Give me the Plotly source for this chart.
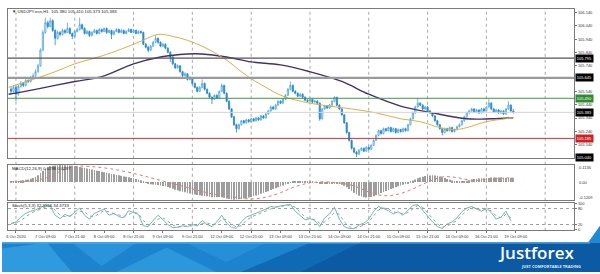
import plotly.graph_objects as go

# ---------------- data ----------------
start_bar = -2
first_open = 105.560
close = [
    105.543, 105.573, 105.521, 105.580, 105.603, 105.588, 105.625, 105.618, 105.647, 105.662,
    105.692, 105.737, 105.856, 105.991, 106.065, 106.036, 106.080, 106.006, 105.946, 105.991,
    105.976, 106.006, 105.991, 106.021, 105.983, 105.961, 105.998, 106.013, 106.050, 106.021,
    105.983, 105.998, 105.968, 105.991, 106.006, 105.983, 106.013, 105.998, 106.021, 105.991,
    106.006, 105.976, 105.998, 106.013, 105.991, 106.006, 105.983, 105.998, 106.013, 105.991,
    106.006, 105.983, 105.998, 105.991, 105.901, 105.879, 105.856, 105.886, 105.916, 105.946,
    105.916, 105.886, 105.901, 105.871, 105.841, 105.804, 105.752, 105.722, 105.737, 105.692,
    105.662, 105.677, 105.633, 105.647, 105.603, 105.573, 105.543, 105.573, 105.603, 105.558,
    105.528, 105.498, 105.483, 105.513, 105.491, 105.543, 105.588, 105.528, 105.468, 105.409,
    105.349, 105.289, 105.259, 105.289, 105.319, 105.304, 105.326, 105.312, 105.334, 105.319,
    105.341, 105.326, 105.356, 105.341, 105.371, 105.394, 105.424, 105.409, 105.438, 105.468,
    105.453, 105.483, 105.513, 105.558, 105.588, 105.543, 105.528, 105.506, 105.521, 105.498,
    105.476, 105.468, 105.483, 105.461, 105.468, 105.453, 105.334, 105.409, 105.431, 105.416,
    105.438, 105.468, 105.498, 105.438, 105.409, 105.364, 105.304, 105.230, 105.170, 105.110,
    105.080, 105.065, 105.095, 105.110, 105.088, 105.117, 105.103, 105.132, 105.170, 105.207,
    105.244, 105.222, 105.259, 105.244, 105.267, 105.237, 105.259, 105.230, 105.252, 105.237,
    105.259, 105.244, 105.289, 105.334, 105.379, 105.424, 105.453, 105.438, 105.409, 105.424,
    105.394, 105.379, 105.356, 105.319, 105.289, 105.259, 105.230, 105.259, 105.244, 105.267,
    105.237, 105.252, 105.274, 105.289, 105.319, 105.349, 105.379, 105.394, 105.409, 105.386,
    105.401, 105.379, 105.409, 105.394, 105.424, 105.453, 105.409, 105.386, 105.401, 105.379,
    105.394, 105.371, 105.409, 105.438, 105.394, 105.383,
]
high = [
    105.575, 105.590, 105.585, 105.595, 105.620, 105.612, 105.640, 105.635, 105.660, 105.680,
    105.710, 105.752, 105.870, 106.010, 106.103, 106.080, 106.103, 106.090, 106.015, 106.005,
    106.000, 106.020, 106.015, 106.065, 106.030, 105.990, 106.010, 106.025, 106.103, 106.058,
    106.030, 106.010, 106.005, 106.000, 106.018, 106.012, 106.025, 106.020, 106.030, 106.028,
    106.015, 106.012, 106.008, 106.025, 106.020, 106.016, 106.012, 106.008, 106.024, 106.020,
    106.016, 106.013, 106.007, 106.005, 105.996, 105.910, 105.890, 105.895, 105.925, 105.968,
    105.952, 105.922, 105.912, 105.908, 105.878, 105.848, 105.812, 105.760, 105.748, 105.742,
    105.700, 105.688, 105.682, 105.660, 105.652, 105.610, 105.580, 105.582, 105.633, 105.610,
    105.565, 105.535, 105.505, 105.520, 105.520, 105.550, 105.603, 105.592, 105.534, 105.474,
    105.415, 105.356, 105.298, 105.298, 105.326, 105.326, 105.334, 105.332, 105.342, 105.340,
    105.350, 105.348, 105.364, 105.362, 105.380, 105.402, 105.434, 105.430, 105.448, 105.476,
    105.474, 105.492, 105.522, 105.568, 105.618, 105.595, 105.552, 105.535, 105.530, 105.527,
    105.505, 105.484, 105.492, 105.490, 105.476, 105.475, 105.458, 105.416, 105.440, 105.438,
    105.446, 105.476, 105.506, 105.502, 105.444, 105.415, 105.370, 105.310, 105.236, 105.176,
    105.118, 105.090, 105.104, 105.118, 105.116, 105.125, 105.124, 105.140, 105.178, 105.215,
    105.252, 105.250, 105.267, 105.266, 105.276, 105.274, 105.268, 105.265, 105.260, 105.258,
    105.268, 105.266, 105.296, 105.342, 105.388, 105.434, 105.491, 105.460, 105.445, 105.432,
    105.430, 105.400, 105.385, 105.362, 105.326, 105.296, 105.266, 105.267, 105.266, 105.276,
    105.274, 105.260, 105.282, 105.298, 105.328, 105.358, 105.388, 105.404, 105.418, 105.415,
    105.410, 105.407, 105.418, 105.415, 105.432, 105.483, 105.460, 105.415, 105.410, 105.407,
    105.402, 105.400, 105.416, 105.468, 105.444, 105.410,
]
low = [
    105.530, 105.535, 105.468, 105.510, 105.570, 105.575, 105.582, 105.605, 105.610, 105.640,
    105.655, 105.685, 105.730, 105.850, 105.980, 106.020, 106.030, 105.995, 105.894, 105.935,
    105.960, 105.968, 105.980, 105.985, 105.975, 105.940, 105.955, 105.990, 106.005, 106.010,
    105.975, 105.975, 105.955, 105.960, 105.985, 105.975, 105.978, 105.990, 105.992, 105.980,
    105.985, 105.940, 105.970, 105.992, 105.984, 105.986, 105.976, 105.978, 105.993, 105.985,
    105.986, 105.977, 105.978, 105.980, 105.894, 105.870, 105.841, 105.850, 105.880, 105.910,
    105.905, 105.878, 105.880, 105.862, 105.832, 105.767, 105.742, 105.712, 105.715, 105.684,
    105.652, 105.655, 105.625, 105.626, 105.595, 105.565, 105.535, 105.538, 105.568, 105.550,
    105.520, 105.490, 105.446, 105.478, 105.484, 105.486, 105.538, 105.520, 105.460, 105.400,
    105.340, 105.280, 105.230, 105.252, 105.282, 105.296, 105.298, 105.304, 105.306, 105.311,
    105.312, 105.318, 105.320, 105.334, 105.336, 105.364, 105.388, 105.401, 105.402, 105.432,
    105.446, 105.448, 105.476, 105.506, 105.550, 105.535, 105.520, 105.498, 105.500, 105.490,
    105.468, 105.460, 105.462, 105.454, 105.455, 105.446, 105.319, 105.328, 105.402, 105.409,
    105.410, 105.432, 105.460, 105.430, 105.400, 105.356, 105.296, 105.220, 105.160, 105.100,
    105.070, 105.043, 105.058, 105.088, 105.080, 105.082, 105.095, 105.098, 105.126, 105.164,
    105.200, 105.214, 105.216, 105.236, 105.238, 105.229, 105.231, 105.222, 105.224, 105.229,
    105.231, 105.236, 105.238, 105.283, 105.328, 105.372, 105.418, 105.430, 105.400, 105.402,
    105.386, 105.371, 105.348, 105.311, 105.281, 105.251, 105.207, 105.224, 105.236, 105.238,
    105.229, 105.230, 105.246, 105.268, 105.283, 105.312, 105.342, 105.372, 105.388, 105.378,
    105.380, 105.371, 105.373, 105.386, 105.388, 105.418, 105.401, 105.378, 105.380, 105.371,
    105.372, 105.364, 105.366, 105.402, 105.386, 105.373,
]

ma_fast_x = [-3, 2, 8, 16, 24, 35, 43, 51, 58, 64, 70, 76, 82, 87, 92, 96, 102, 109,
             120, 137, 147, 157, 165, 173, 179, 184, 192, 203]
ma_fast = [105.573, 105.603, 105.640, 105.692, 105.752, 105.812, 105.864, 105.924, 105.976,
           105.961, 105.931, 105.886, 105.827, 105.767, 105.692, 105.640, 105.573, 105.506,
           105.453, 105.409, 105.379, 105.334, 105.312, 105.267, 105.252, 105.267, 105.312,
           105.341]
ma_slow_x = [-3, 8, 24, 35, 48, 59, 70, 76, 86, 96, 108, 120, 133, 144, 157, 170, 184, 194, 203]
ma_slow = [105.521, 105.558, 105.618, 105.655, 105.752, 105.804, 105.827, 105.827, 105.804,
           105.767, 105.744, 105.692, 105.618, 105.521, 105.431, 105.379, 105.334, 105.334,
           105.341]

macd = [
    0.004, 0.005, 0.006, 0.008, 0.010, 0.012, 0.015, 0.018, 0.022,
    0.028, 0.035, 0.045, 0.060, 0.075, 0.088, 0.098, 0.105,
    0.108, 0.110, 0.112, 0.113, 0.113, 0.112, 0.112, 0.110,
    0.108, 0.105, 0.103, 0.100, 0.097, 0.094, 0.090, 0.087, 0.083, 0.080,
    0.076, 0.073, 0.069, 0.066, 0.062, 0.059, 0.055, 0.052, 0.048, 0.045,
    0.042, 0.038, 0.035, 0.032, 0.028, 0.025, 0.021, 0.017, 0.012,
    0.004, -0.004, -0.010, -0.014, -0.016, -0.017, -0.019, -0.022, -0.025, -0.028,
    -0.032, -0.037, -0.044, -0.050, -0.055, -0.060,
    -0.064, -0.068, -0.072, -0.076, -0.080, -0.083, -0.086, -0.088, -0.090, -0.092,
    -0.094, -0.097, -0.100, -0.101, -0.100, -0.099, -0.101, -0.104, -0.108, -0.112,
    -0.116, -0.117, -0.116, -0.114, -0.112, -0.109, -0.106, -0.102, -0.098,
    -0.094, -0.089, -0.084, -0.078, -0.072, -0.066, -0.060, -0.053, -0.046, -0.040,
    -0.034, -0.028, -0.022, -0.016, -0.010, -0.004, 0.001, 0.004, 0.005,
    0.005, 0.004, 0.004, 0.003, 0.002, 0.001, 0.000, -0.002, -0.006, -0.008,
    -0.009, -0.010, -0.010, -0.009, -0.008, -0.010, -0.013, -0.017, -0.024, -0.034,
    -0.046,
    -0.058, -0.070, -0.081, -0.090, -0.096, -0.100, -0.102, -0.101, -0.098, -0.093,
    -0.087, -0.080, -0.073, -0.066, -0.059, -0.052, -0.046, -0.040, -0.034, -0.028,
    -0.023, -0.018, -0.012, -0.006,
    0.002, 0.010, 0.018, 0.025, 0.031, 0.036, 0.040, 0.042, 0.044, 0.045,
    0.044, 0.042, 0.038, 0.033, 0.027, 0.021, 0.015, 0.010, 0.006, 0.003,
    0.001, 0.002, 0.005, 0.009, 0.013, 0.017, 0.020, 0.022, 0.024, 0.025,
    0.026, 0.027, 0.028, 0.030, 0.031, 0.031, 0.030, 0.030, 0.029, 0.028,
    0.028, 0.029, 0.028,
]
macd_signal_x = [-2, 8, 14, 20, 25, 30, 40, 50, 57, 64, 72, 82, 90, 96, 102, 108, 114, 120,
                 126, 132, 138, 144, 150, 156, 162, 168, 174, 180, 186, 192, 198, 203]
macd_signal = [0.003, 0.010, 0.040, 0.085, 0.105, 0.104, 0.085, 0.050, 0.020, -0.010,
               -0.045, -0.085, -0.102, -0.112, -0.100, -0.070, -0.030, -0.005, 0.002,
               -0.006, -0.025, -0.065, -0.090, -0.080, -0.045, 0.000, 0.035, 0.030, 0.012,
               0.018, 0.026, 0.028]

stoch_main = [
    22, 30, 48, 62, 70, 75, 85, 92, 90, 55, 42, 58, 50, 65, 82, 55, 40, 62, 70, 78,
    55, 62, 50, 45, 72, 65, 58, 15, 12, 35, 55, 38, 20, 8, 10, 15, 12, 20, 15, 35,
    20, 12, 30, 55, 25, 8, 6, 30, 48, 55, 62, 70, 78, 88, 85, 90, 94, 96, 70, 55,
    38, 42, 35, 12, 45, 60, 85, 40, 12, 5, 4, 18, 25, 40, 70, 88, 80, 72, 60, 68,
    55, 75, 92, 95, 72, 50, 30, 12, 5, 22, 30, 45, 68, 82, 88, 78, 70, 82, 65, 40,
    48, 70, 34,
]
stoch_signal = [
    25, 26, 35, 50, 62, 70, 78, 86, 90, 75, 55, 50, 52, 58, 70, 68, 52, 50, 62, 72,
    68, 60, 56, 50, 58, 66, 62, 35, 18, 22, 40, 45, 32, 18, 10, 12, 13, 16, 17, 24,
    26, 20, 22, 40, 38, 22, 10, 16, 35, 48, 56, 64, 72, 80, 86, 88, 91, 94, 84, 65,
    48, 42, 38, 25, 30, 45, 66, 58, 30, 12, 6, 10, 18, 30, 52, 75, 82, 78, 68, 64,
    60, 65, 80, 92, 85, 64, 42, 22, 10, 14, 24, 35, 55, 72, 84, 82, 74, 76, 72, 52,
    45, 58, 45,
]

tick_labels = ["6 Oct 2020", "7 Oct 09:00", "7 Oct 21:00", "8 Oct 09:00", "8 Oct 21:00",
               "9 Oct 09:00", "9 Oct 21:00", "12 Oct 09:00", "12 Oct 21:00", "13 Oct 09:00",
               "13 Oct 21:00", "14 Oct 09:00", "14 Oct 21:00", "15 Oct 09:00", "15 Oct 21:00",
               "16 Oct 09:00", "16 Oct 21:00", "19 Oct 09:00"]
price_ticks = [106.140, 106.040, 105.940, 105.840, 105.740, 105.540, 105.440, 105.340,
               105.240, 105.140]
level_values = [105.795, 105.645, 105.490, 105.185]
level_labels = ["105.795", "105.645", "105.490", "105.185"]
level_colors = ["#555555", "#9a9a9a", "#3f9a3f", "#cc3333"]
level_widths = [1.2, 2.2, 1, 1]
level_box = ["#000000", "#000000", "#2e8b2e", "#cc2222"]
last_price = 105.383
bottom_price = 105.040

# ---------------- layout helpers ----------------
W, H = 600, 274
def py(y):
    return 1 - y / H
def px(x):
    return x / W

X_DOM = [px(6), px(574)]
MAIN = [py(158), py(6)]
MACD_D = [py(201), py(165)]
STO_D = [py(231), py(204)]
XR = [-3.25, 227.8]
FONT = "Liberation Sans"

bars = list(range(start_bar, start_bar + len(close)))
opens = [first_open] + close[:-1]
stoch_x = [start_bar + 2 * k for k in range(len(stoch_main))]

fig = go.Figure()
fig.add_trace(go.Candlestick(
    x=bars, open=opens, high=high, low=low, close=close,
    increasing=dict(line=dict(color="#4aa6de", width=0.8), fillcolor="#f4faff"),
    decreasing=dict(line=dict(color="#2a88c8", width=0.8), fillcolor="#2a88c8"),
    whiskerwidth=0, showlegend=False, hoverinfo="skip", xaxis="x", yaxis="y"))
fig.add_trace(go.Scatter(x=ma_slow_x, y=ma_slow, mode="lines",
                         line=dict(color="#43306f", width=1.4, shape="spline"),
                         showlegend=False, xaxis="x", yaxis="y"))
fig.add_trace(go.Scatter(x=ma_fast_x, y=ma_fast, mode="lines",
                         line=dict(color="#deae4a", width=1, shape="spline"),
                         showlegend=False, xaxis="x", yaxis="y"))

fig.add_trace(go.Bar(x=bars, y=macd, width=0.3,
                     marker=dict(color="#9c9c9c", line=dict(width=0)),
                     showlegend=False, xaxis="x2", yaxis="y2"))
fig.add_trace(go.Scatter(x=macd_signal_x, y=macd_signal, mode="lines",
                         line=dict(color="#e07a7a", width=1, dash="dot", shape="spline"),
                         showlegend=False, xaxis="x2", yaxis="y2"))

fig.add_trace(go.Scatter(x=stoch_x, y=stoch_signal, mode="lines",
                         line=dict(color="#a0a0a0", width=1, dash="dot"),
                         showlegend=False, xaxis="x3", yaxis="y3"))
fig.add_trace(go.Scatter(x=stoch_x, y=stoch_main, mode="lines",
                         line=dict(color="#6dbdb0", width=1),
                         showlegend=False, xaxis="x3", yaxis="y3"))

axis_common = dict(range=XR, domain=X_DOM, showgrid=False, zeroline=False,
                   showline=True, mirror=True, linecolor="#7a7a7a", linewidth=1)
ycommon = dict(showgrid=False, zeroline=False, showline=True, mirror=True,
               linecolor="#7a7a7a", linewidth=1, side="right",
               tickfont=dict(size=4, color="#333333", family=FONT))

shapes = []
for g in range(0, 228, 24):
    shapes.append(dict(type="line", xref="x", yref="paper", x0=g, x1=g,
                       y0=py(232), y1=py(6), layer="below",
                       line=dict(color="#a9a9a9", width=1, dash="dot")))
for v, c, w in zip(level_values, level_colors, level_widths):
    shapes.append(dict(type="line", xref="paper", yref="y", x0=X_DOM[0], x1=X_DOM[1],
                       y0=v, y1=v, line=dict(color=c, width=w)))
shapes.append(dict(type="line", xref="paper", yref="y", x0=X_DOM[0], x1=X_DOM[1],
                   y0=last_price, y1=last_price, line=dict(color="#d4d4d4", width=1)))
for v in (80, 20):
    shapes.append(dict(type="line", xref="paper", yref="y3", x0=X_DOM[0], x1=X_DOM[1],
                       y0=v, y1=v, line=dict(color="#9a9a9a", width=1, dash="dot")))

def path(pts):
    return "M " + " L ".join(f"{px(x):.4f},{py(y):.4f}" for x, y in pts) + " Z"
banner = [
    ([(0, 244), (600, 244), (600, 274), (0, 274)], "#0f69b3"),
    ([(0, 244), (310, 244), (240, 274), (0, 274)], "#1c84cf"),
    ([(0, 250), (45, 244), (70, 274), (0, 274)], "#2f9ade"),
    ([(70, 244), (135, 244), (100, 268)], "#2a94da"),
    ([(115, 274), (165, 249), (215, 274)], "#2d97dc"),
    ([(185, 244), (265, 244), (225, 264)], "#2590d7"),
    ([(360, 244), (600, 244), (600, 274), (300, 274)], "#0b5aa3"),
    ([(588, 244), (600, 227), (600, 244)], "#1f8ad2"),
]
for pts, col in banner:
    shapes.append(dict(type="path", xref="paper", yref="paper", path=path(pts),
                       fillcolor=col, line=dict(width=0), layer="above"))
shapes.append(dict(type="line", xref="paper", yref="paper", x0=0, x1=px(590),
                   y0=py(244.5), y1=py(244.5), line=dict(color="#55b0e8", width=1)))

annotations = []
small = dict(size=4.3, color="#222222", family=FONT)
annotations.append(dict(xref="paper", yref="paper", x=px(8), y=py(8.5), xanchor="left",
                        yanchor="middle", showarrow=False, font=small,
                        text="\u25bc USDJPY.ecn,H1  105.380 105.410 105.373 105.383"))
annotations.append(dict(xref="paper", yref="paper", x=px(8), y=py(168.5), xanchor="left",
                        yanchor="middle", showarrow=False, font=small,
                        text="MACD(12,26,9) 0.0298 0.0287"))
annotations.append(dict(xref="paper", yref="paper", x=px(8), y=py(206.5), xanchor="left",
                        yanchor="middle", showarrow=False, font=small,
                        text="Stoch(5,3,3) 32.3556 34.3733"))
for v, t, bc in zip(level_values + [last_price, bottom_price],
                    level_labels + [f"{last_price:.3f}", f"{bottom_price:.3f}"],
                    level_box + ["#000000", "#000000"]):
    annotations.append(dict(xref="paper", yref="y", x=X_DOM[1] + px(1), y=v,
                            xanchor="left", yanchor="middle", showarrow=False,
                            text=t, bgcolor=bc, borderpad=0.8,
                            font=dict(size=4, color="white", family=FONT)))
for yy, t in ((168, "0.1136"), (183, "0.00"), (198, "-0.1209")):
    annotations.append(dict(xref="paper", yref="paper", x=X_DOM[1] + px(3), y=py(yy),
                            xanchor="left", yanchor="middle", showarrow=False,
                            text=t, font=dict(size=4, color="#333333", family=FONT)))
annotations.append(dict(xref="paper", yref="paper", x=px(536), y=py(254), xanchor="center",
                        yanchor="middle", showarrow=False, text="Justforex",
                        font=dict(size=17, color="white", family="Open Sans", weight=600)))
annotations.append(dict(xref="paper", yref="paper", x=px(551), y=py(268.5), xanchor="center",
                        yanchor="middle", showarrow=False, text="JUST COMFORTABLE TRADING",
                        font=dict(size=4, color="#dceefa", family="Open Sans", weight=700)))

fig.update_layout(
    width=W, height=H, margin=dict(l=0, r=0, t=0, b=0),
    paper_bgcolor="white", plot_bgcolor="white", showlegend=False,
    xaxis=dict(axis_common, anchor="y", showticklabels=False,
               rangeslider=dict(visible=False)),
    xaxis2=dict(axis_common, anchor="y2", showticklabels=False),
    xaxis3=dict(axis_common, anchor="y3", tickmode="array",
                tickvals=[12 * k for k in range(len(tick_labels))], ticktext=tick_labels,
                tickangle=0,
                tickfont=dict(size=4, color="#333333", family=FONT),
                ticks="outside", ticklen=2, tickcolor="#777777"),
    yaxis=dict(ycommon, domain=MAIN, range=[105.035, 106.170], anchor="x",
               tickmode="array", tickvals=price_ticks,
               ticktext=[f"{v:.3f}" for v in price_ticks],
               ticks="outside", ticklen=2, tickcolor="#777777"),
    yaxis2=dict(ycommon, domain=MACD_D, range=[-0.1209, 0.1136], anchor="x2",
                showticklabels=False),
    yaxis3=dict(ycommon, domain=STO_D, range=[0, 100], anchor="x3",
                tickmode="array", tickvals=[100, 80, 20, 0],
                ticks="outside", ticklen=2, tickcolor="#777777"),
    shapes=shapes, annotations=annotations,
)

fig.write_html("out.html")
